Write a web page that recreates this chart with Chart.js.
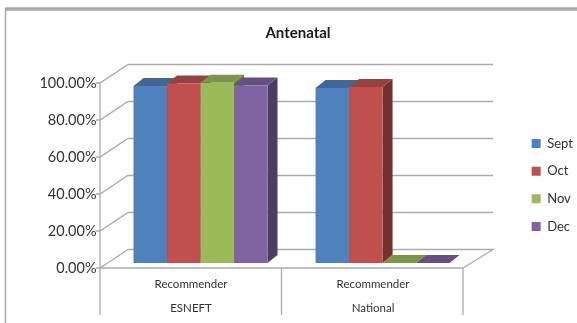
<!DOCTYPE html>
<html>
<head>
<meta charset="utf-8">
<title>Antenatal</title>
<script src="https://cdn.jsdelivr.net/npm/chart.js@4"></script>
<style>
    html, body { margin: 0; padding: 0; background: #fff; }
    canvas { display: block; }
</style>
</head>
<body>
<canvas id="chart" width="577" height="323"></canvas>
<script>
const categories = [['Recommender', 'ESNEFT'], ['Recommender', 'National']];
const sept = [0.957, 0.946];
const oct = [0.970, 0.952];
const nov = [0.975, 0];
const dec = [0.960, 0];
const tickValues = [0, 0.2, 0.4, 0.6, 0.8, 1];

const colors = ['#4F81BD', '#C0504D', '#9BBB59', '#8064A2'];
const lineColor = '#ababab';
const textColor = '#333333';
const fontFamily = 'Lato, "Open Sans", sans-serif';

// how far the bars sit behind the front plane, and the walls behind the bars
const barShiftX = 9.5;
const barDepthX = 10;
const barDepthY = 8;
const wallDepthX = 28;
const wallDepthY = 18.5;
const floorRightX = 463;

function shade(hex, f) {
    const n = parseInt(hex.slice(1), 16);
    const r = Math.round((n >> 16 & 255) * f);
    const g = Math.round((n >> 8 & 255) * f);
    const b = Math.round((n & 255) * f);
    return `rgb(${r},${g},${b})`;
}

function poly(ctx, pts) {
    ctx.beginPath();
    pts.forEach((p, i) => i ? ctx.lineTo(p[0], p[1]) : ctx.moveTo(p[0], p[1]));
    ctx.closePath();
}

// walls, floor and frame go under the bars
const wallsPlugin = {
    id: 'walls',
    beforeDatasetsDraw(chart) {
        const ctx = chart.ctx;
        const y = chart.scales.y;
        const x0 = chart.chartArea.left - barShiftX;
        const backX = x0 + wallDepthX;
        const backRight = floorRightX + wallDepthX + 2;
        ctx.save();

        // outer frame, open on the right
        ctx.strokeStyle = '#a9a9a9';
        ctx.lineWidth = 3.5;
        ctx.beginPath();
        ctx.moveTo(577, 9);
        ctx.lineTo(5.5, 9);
        ctx.stroke();
        ctx.lineWidth = 1.5;
        ctx.beginPath();
        ctx.moveTo(5.5, 8);
        ctx.lineTo(5.5, 323);
        ctx.stroke();

        ctx.strokeStyle = lineColor;
        ctx.lineWidth = 1.3;
        tickValues.forEach(v => {
            const py = y.getPixelForValue(v);
            ctx.beginPath();
            ctx.moveTo(x0 - 4, py);
            ctx.lineTo(x0, py);
            ctx.lineTo(backX, py - wallDepthY);
            if (v > 0) {
                ctx.lineTo(backRight, py - wallDepthY);
            }
            ctx.stroke();
        });

        // floor outline
        const base = y.getPixelForValue(0);
        ctx.beginPath();
        ctx.moveTo(backX, base - wallDepthY);
        ctx.lineTo(backRight, base - wallDepthY);
        ctx.lineTo(floorRightX, base);
        ctx.lineTo(x0, base);
        ctx.stroke();

        // value axis and category separators
        ctx.beginPath();
        ctx.moveTo(x0, y.getPixelForValue(1));
        ctx.lineTo(x0, 315);
        const mid = (x0 + floorRightX) / 2;
        ctx.moveTo(mid, base);
        ctx.lineTo(mid, 315);
        ctx.moveTo(floorRightX, base);
        ctx.lineTo(floorRightX, 315);
        ctx.stroke();

        // top and side faces of each bar, the front comes from the library
        chart.data.datasets.forEach((ds, i) => {
            chart.getDatasetMeta(i).data.forEach(bar => {
                const l = bar.x - bar.width / 2;
                const r = bar.x + bar.width / 2;
                ctx.fillStyle = shade(colors[i], 0.6);
                poly(ctx, [[r, bar.y], [r + barDepthX, bar.y - barDepthY], [r + barDepthX, bar.base - barDepthY], [r, bar.base]]);
                ctx.fill();
                ctx.fillStyle = shade(colors[i], 0.8);
                poly(ctx, [[l, bar.y], [l + barDepthX, bar.y - barDepthY], [r + barDepthX, bar.y - barDepthY], [r, bar.y]]);
                ctx.fill();
            });
        });
        ctx.restore();
    }
};

// moves the legend out to the right of the floor and centres the title over the page area
const placementPlugin = {
    id: 'placement',
    afterLayout(chart) {
        const lg = chart.legend;
        const dx = 517 - lg.left;
        lg.left += dx;
        lg.right += dx;
        lg.top += 23.5;
        lg.bottom += 23.5;
        const tb = chart.titleBlock;
        const tx = 298 - (tb.left + tb.right) / 2;
        tb.left += tx;
        tb.right += tx;
    }
};

function makeDataset(label, data, color) {
    return {
        label: label,
        data: data,
        backgroundColor: color,
        borderWidth: 0,
        xAxisID: 'x',
        yAxisID: 'yBars',
        barPercentage: 1,
        categoryPercentage: 0.736
    };
}

const ctx = document.getElementById('chart').getContext('2d');
new Chart(ctx, {
    type: 'bar',
    data: {
        labels: categories,
        datasets: [
            makeDataset('Sept', sept, colors[0]),
            makeDataset('Oct', oct, colors[1]),
            makeDataset('Nov', nov, colors[2]),
            makeDataset('Dec', dec, colors[3])
        ]
    },
    plugins: [wallsPlugin, placementPlugin],
    options: {
        responsive: false,
        animation: false,
        layout: { padding: { left: 30, right: 37.5, top: 0, bottom: 0 } },
        plugins: {
            title: {
                display: true,
                text: 'Antenatal',
                color: '#1a1a1a',
                font: { family: fontFamily, size: 15, weight: 'bold' },
                padding: { top: 24, bottom: 41 }
            },
            legend: {
                position: 'right',
                labels: {
                    boxWidth: 9,
                    boxHeight: 9,
                    padding: 14.67,
                    color: textColor,
                    font: { family: fontFamily, size: 13 }
                }
            },
            tooltip: { enabled: false }
        },
        scales: {
            x: {
                grid: { display: false, drawTicks: false },
                border: { display: false },
                ticks: {
                    color: textColor,
                    labelOffset: -barShiftX,
                    maxRotation: 0,
                    padding: 4,
                    font: { family: fontFamily, size: 11.5, lineHeight: '24px' }
                },
                afterFit(scale) { scale.height = 55; }
            },
            y: {
                position: 'left',
                min: 0,
                max: 1,
                grid: { display: false, drawTicks: false },
                border: { display: false },
                afterBuildTicks(scale) { scale.ticks = tickValues.map(v => ({ value: v })); },
                ticks: {
                    color: textColor,
                    padding: 13,
                    font: { family: fontFamily, size: 14.5 },
                    callback: v => (v * 100).toFixed(2) + '%'
                },
                afterFit(scale) { scale.width = 79.5; }
            },
            // the bars stand on the floor a little behind the front plane
            yBars: {
                display: false,
                min: -0.027,
                max: 0.973
            }
        }
    }
});
</script>
</body>
</html>
